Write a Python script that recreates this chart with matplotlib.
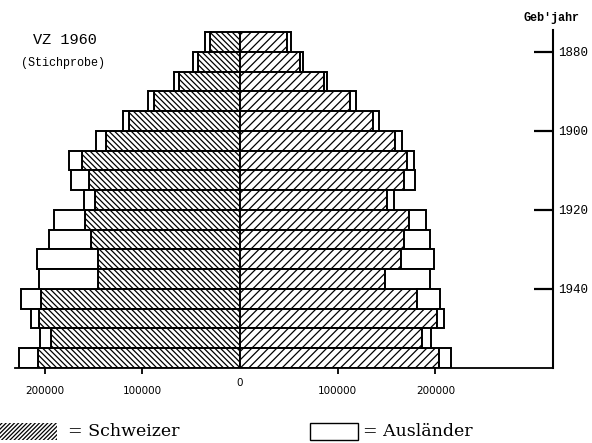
import matplotlib
matplotlib.use("Agg")
import matplotlib.pyplot as plt
from matplotlib.patches import Rectangle
import numpy as np

# Geburtsjahrgaenge (5-Jahres-Klassen, Beginn), VZ 1960 Stichprobe
jahrgang = [1875, 1880, 1885, 1890, 1895, 1900, 1905, 1910, 1915,
            1920, 1925, 1930, 1935, 1940, 1945, 1950, 1955]

# linke Seite
links_schweizer = [30500, 43000, 62500, 88000, 113500, 137000, 162000, 154500, 148000,
                   159000, 152000, 145500, 145500, 203500, 205500, 193000, 207000]
links_auslaender = [5000, 5000, 5000, 6500, 6500, 10000, 13000, 18000, 12000,
                    31000, 43000, 62500, 60500, 20500, 8500, 11500, 19500]

# rechte Seite
rechts_schweizer = [48000, 61000, 85500, 113000, 136000, 159000, 171000, 168000, 150000,
                    172500, 167500, 165000, 148000, 181000, 202000, 186000, 203500]
rechts_auslaender = [4000, 4000, 4000, 6000, 6000, 7000, 7000, 11500, 8000,
                     17500, 27500, 34000, 47000, 23500, 7000, 10000, 12500]

x_ticks = [-200000, -100000, 100000, 200000]
x_labels = ["200000", "100000", "100000", "200000"]
jahr_ticks = [1880, 1900, 1920, 1940]

plt.rcParams['hatch.linewidth'] = 0.9
mono = "Liberation Mono"

fig = plt.figure(figsize=(5.92, 4.43), dpi=100)
ax = fig.add_axes([15/592, 1-368/443, 538/592, 338/443])

y = np.array(jahrgang) + 2.5
ls = np.array(links_schweizer)
la = np.array(links_auslaender)
rs = np.array(rechts_schweizer)
ra = np.array(rechts_auslaender)

ax.barh(y, -ls, height=5, color="white", edgecolor="black", hatch="\\" * 6, linewidth=1.4)
ax.barh(y, -la, left=-ls, height=5, color="white", edgecolor="black", linewidth=1.4)
ax.barh(y, rs, height=5, color="white", edgecolor="black", hatch="////", linewidth=1.4)
ax.barh(y, ra, left=rs, height=5, color="white", edgecolor="black", linewidth=1.4)

ax.set_xlim(-230300, 320400)
ax.set_ylim(1960, 1874.5)

for s in ["top", "left"]:
    ax.spines[s].set_visible(False)
ax.spines["bottom"].set_linewidth(1.3)
ax.spines["right"].set_linewidth(1.5)

ax.set_xticks(x_ticks)
ax.set_xticklabels(x_labels, fontsize=7.5)
ax.tick_params(axis="x", direction="out", length=4, width=1.3, pad=9)
ax.text(0, -0.044, "0", transform=ax.get_xaxis_transform(), ha="center", va="center", fontsize=7.5)

ax.yaxis.tick_right()
ax.set_yticks(jahr_ticks)
ax.set_yticklabels([str(j) for j in jahr_ticks], family=mono, fontsize=9)
ax.tick_params(axis="y", direction="in", length=14, width=1.6, pad=4)

fig.text(65/592, 1-40/443, "VZ 1960", family=mono, fontsize=11, ha="center", va="center")
fig.text(63/592, 1-63/443, "(Stichprobe)", family=mono, fontsize=8.5, ha="center", va="center")
fig.text(551/592, 1-18/443, "Geb'jahr", family=mono, fontsize=8.5, weight="bold", ha="center", va="center")

# Legende
fig.patches.append(Rectangle((0, 1-440/443), 57/592, 17/443, transform=fig.transFigure,
                             facecolor="white", edgecolor="black", hatch="/" * 8, linewidth=0))
fig.text(68/592, 1-432/443, "= Schweizer", family="DejaVu Serif", fontsize=12.5, ha="left", va="center")
fig.patches.append(Rectangle((310/592, 1-440/443), 48/592, 17/443, transform=fig.transFigure,
                             facecolor="white", edgecolor="black", linewidth=1.0))
fig.text(363/592, 1-432/443, "= Ausländer", family="DejaVu Serif", fontsize=12.5, ha="left", va="center")

fig.savefig("out.png", dpi=100)
